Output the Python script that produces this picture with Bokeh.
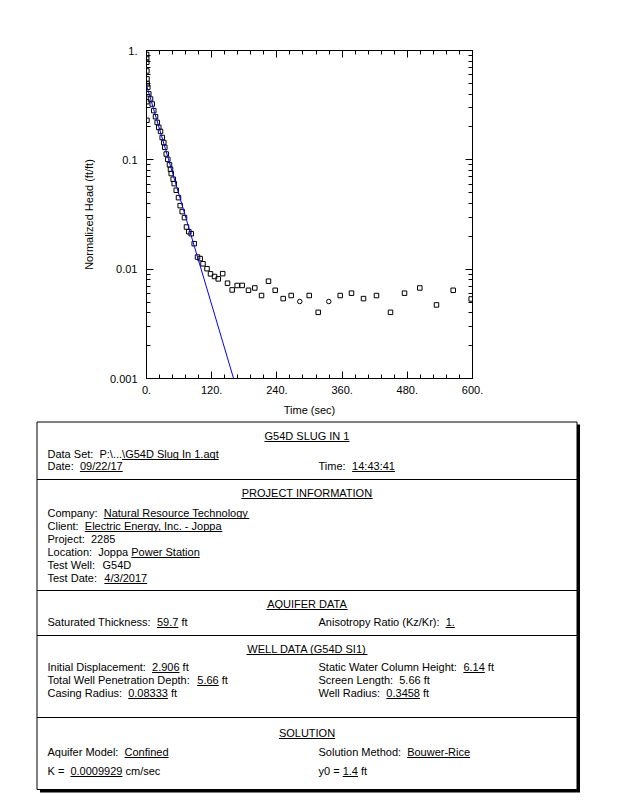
from bokeh.plotting import figure
from bokeh.models import Range1d, LinearAxis, LogAxis, FixedTicker, CustomJSTickFormatter
from bokeh.core.properties import value
from bokeh.embed import file_html
from bokeh.resources import INLINE

# ---------------- data ----------------
t_obs = [0.2, 0.4, 0.5, 0.7, 0.9, 0.6, 0.8,
         1.3, 2.4, 4.2, 7.4, 10.5, 13.4, 16.6, 19.7, 22.6, 25.8, 28.9, 31.8, 33.7, 36.3,
         39.2, 42.3, 44.2, 45.5, 49.1, 51.0, 54.7, 58.9, 62.0, 65.7, 69.9, 73.6, 77.9,
         82.3, 87.8, 93.9, 98.8, 104.0, 111.4, 117.8, 125.2, 132.0, 140.2, 149.1, 157.7,
         166.9, 176.1, 187.7, 199.3, 211.7, 224.5, 236.9, 251.6, 266.3, 299.5, 316.0,
         356.5, 377.3, 399.4, 423.3, 449.1, 474.9, 503.0, 533.7, 564.5, 597.6]
h_obs = [0.92, 0.86, 0.78, 0.65, 0.55, 0.34, 0.23,
         0.495, 0.461, 0.401, 0.360, 0.324, 0.282, 0.248, 0.220, 0.198, 0.182, 0.160, 0.144, 0.130, 0.113,
         0.101, 0.090, 0.082, 0.0749, 0.0665, 0.0606, 0.0527, 0.0451, 0.0381, 0.0336, 0.0296, 0.0243, 0.0220,
         0.0211, 0.0171, 0.0129, 0.0125, 0.0112, 0.0101, 0.00906, 0.00857, 0.00815, 0.00910, 0.00744, 0.00646,
         0.00709, 0.00710, 0.00641, 0.00673, 0.00574, 0.00776, 0.00641, 0.00538, 0.00574, 0.00574, 0.00403,
         0.00574, 0.00603, 0.00538, 0.00574, 0.00403, 0.00603, 0.00673, 0.00471, 0.00641, 0.00534]
t_obs_circ = [282.1, 335.5]
h_obs_circ = [0.00506, 0.00506]

fit_t = [0.0, 160.3]
fit_h = [0.4818, 0.001]

x_ticks = [0, 120, 240, 360, 480, 600]
x_minor = [0, 24, 48, 72, 96, 120, 144, 168, 192, 216, 240, 264, 288, 312, 336, 360,
           384, 408, 432, 456, 480, 504, 528, 552, 576, 600]
y_ticks = [0.001, 0.01, 0.1, 1.0]
y_minor = [0.002, 0.003, 0.004, 0.005, 0.006, 0.007, 0.008, 0.009,
           0.02, 0.03, 0.04, 0.05, 0.06, 0.07, 0.08, 0.09,
           0.2, 0.3, 0.4, 0.5, 0.6, 0.7, 0.8, 0.9]

x_label = "Time (sec)"
y_label = "Normalized Head (ft/ft)"

headers = ["G54D SLUG IN 1", "PROJECT INFORMATION", "AQUIFER DATA", "WELL DATA (G54D SI1)", "SOLUTION"]
fields = [
    ("Data Set:", "P:\\...\\G54D Slug In 1.aqt", "", "P:\\..."),
    ("Date:", "09/22/17", "", ""),
    ("Time:", "14:43:41", "", ""),
    ("Company:", "Natural Resource Technology", "", ""),
    ("Client:", "Electric Energy, Inc. - Joppa", "", ""),
    ("Project:", "2285", "", None),
    ("Location:", "Joppa Power Station", "", "Joppa "),
    ("Test Well:", "G54D", "", None),
    ("Test Date:", "4/3/2017", "", ""),
    ("Saturated Thickness:", "59.7", " ft", ""),
    ("Anisotropy Ratio (Kz/Kr):", "1.", "", ""),
    ("Initial Displacement:", "2.906", " ft", ""),
    ("Static Water Column Height:", "6.14", " ft", ""),
    ("Total Well Penetration Depth:", "5.66", " ft", ""),
    ("Screen Length:", "5.66", " ft", None),
    ("Casing Radius:", "0.08333", " ft", ""),
    ("Well Radius:", "0.3458", " ft", ""),
    ("Aquifer Model:", "Confined", "", ""),
    ("Solution Method:", "Bouwer-Rice", "", ""),
    ("K  =", "0.0009929", " cm/sec", ""),
    ("y0 =", "1.4", " ft", ""),
]

# ---------------- layout (page coordinates) ----------------
header_pos = [435, 492, 603, 648, 732]
field_pos = [(47, 453), (47, 465), (318, 465), (47, 512), (47, 525), (47, 538), (47, 551),
             (47, 564), (47, 577), (47, 621), (318, 621), (47, 666), (318, 666), (47, 679),
             (318, 679), (47, 692), (318, 692), (47, 751), (318, 751), (47, 770), (318, 770)]
gaps = ["  "] * 19 + [" ", " "]
dividers = [479, 590, 635, 717]

FONT = "Liberation Sans"
FS = 11

AW = {' ': 278, 'a': 556, 'b': 556, 'c': 500, 'd': 556, 'e': 556, 'f': 278, 'g': 556, 'h': 556,
      'i': 222, 'j': 222, 'k': 500, 'l': 222, 'm': 833, 'n': 556, 'o': 556, 'p': 556, 'q': 556,
      'r': 333, 's': 500, 't': 278, 'u': 556, 'v': 500, 'w': 722, 'x': 500, 'y': 500, 'z': 500,
      '.': 278, ':': 278, '/': 278, '\\': 278, '-': 333, '(': 333, ')': 333, ',': 278, '=': 584,
      'A': 667, 'B': 667, 'C': 722, 'D': 722, 'E': 667, 'F': 611, 'G': 778, 'H': 722, 'I': 278,
      'J': 500, 'K': 667, 'L': 556, 'M': 833, 'N': 722, 'O': 778, 'P': 667, 'Q': 778, 'R': 722,
      'S': 667, 'T': 611, 'U': 722, 'V': 667, 'W': 944, 'X': 667, 'Y': 667, 'Z': 611}


def tw(s):
    return sum(AW.get(c, 556) for c in s) * FS / 1000.0


# ---------------- chart ----------------
p = figure(width=618, height=420, x_range=Range1d(0, 600), y_range=Range1d(0.001, 1.0),
           y_axis_type="log", toolbar_location=None, output_backend="svg",
           min_border_left=146, min_border_right=146, min_border_top=50, min_border_bottom=42)
p.grid.visible = False
p.outline_line_color = "black"
p.background_fill_color = "white"
p.border_fill_color = "white"

xt = FixedTicker(ticks=x_ticks, minor_ticks=x_minor)
yt = FixedTicker(ticks=y_ticks, minor_ticks=y_minor)

xb = p.below[0]
yl = p.left[0]
xb.ticker = xt
xb.formatter = CustomJSTickFormatter(code="return tick.toFixed(0) + '.';")
xb.axis_label = x_label
yl.ticker = yt
yl.formatter = CustomJSTickFormatter(code="if (tick >= 1) { return '1.'; } return tick.toString();")
yl.axis_label = y_label

top = LinearAxis(ticker=xt, formatter=CustomJSTickFormatter(code="return '';"))
right = LogAxis(ticker=yt, formatter=CustomJSTickFormatter(code="return '';"))
p.add_layout(top, "above")
p.add_layout(right, "right")

for ax in [xb, yl, top, right]:
    ax.axis_line_color = "black"
    ax.major_tick_line_color = "black"
    ax.minor_tick_line_color = "black"
    ax.major_tick_in = 7
    ax.major_tick_out = 0
    ax.minor_tick_in = 4
    ax.minor_tick_out = 0
    ax.major_label_text_font = FONT
    ax.major_label_text_font_size = "11px"
    ax.major_label_text_color = "black"
    ax.axis_label_text_font = FONT
    ax.axis_label_text_font_size = "11px"
    ax.axis_label_text_font_style = "normal"
    ax.axis_label_text_color = "black"

xb.major_label_standoff = 7
xb.axis_label_standoff = 7
yl.major_label_standoff = 9
yl.axis_label_standoff = 12
top.major_label_standoff = 0
right.major_label_standoff = 0

p.scatter(t_obs, h_obs, marker="square", size=4.5, fill_color=None, line_color="black", line_width=1)
p.scatter(t_obs_circ, h_obs_circ, marker="circle", size=4.5, fill_color=None, line_color="black", line_width=1)
p.line(fit_t, fit_h, line_color="#0000ff", line_width=1)

# ---------------- info table ----------------
q = figure(width=618, height=380, x_range=Range1d(0, 618), y_range=Range1d(800, 420),
           toolbar_location=None, output_backend="svg",
           min_border_left=0, min_border_right=0, min_border_top=0, min_border_bottom=0)
q.axis.visible = False
q.grid.visible = False
q.outline_line_color = None
q.background_fill_color = "white"
q.border_fill_color = "white"

# shadow and box
q.quad(left=[39.5], right=[579.5], top=[424], bottom=[792], fill_color="black", line_color=None)
q.quad(left=[36.5], right=[576.5], top=[421.5], bottom=[789], fill_color="white", line_color="black", line_width=1)
q.segment(x0=[36.5] * len(dividers), x1=[576.5] * len(dividers), y0=dividers, y1=dividers,
          line_color="black", line_width=1)

cx = (36.5 + 576.5) / 2
tx, ty, tt, ta = [], [], [], []
ux0, ux1, uy = [], [], []
for h, yc in zip(headers, header_pos):
    tx.append(cx); ty.append(yc); tt.append(h); ta.append("center")
    w = tw(h)
    ux0.append(cx - w / 2); ux1.append(cx + w / 2); uy.append(yc + 6)

for (lab, val, unit, skip), (x, yc), gap in zip(fields, field_pos, gaps):
    tx.append(x); ty.append(yc); tt.append(lab); ta.append("left")
    vx = x + tw(lab + gap)
    tx.append(vx); ty.append(yc); tt.append(val); ta.append("left")
    if unit:
        tx.append(vx + tw(val + " ")); ty.append(yc); tt.append(unit.strip()); ta.append("left")
    if skip is not None:
        ux0.append(vx + tw(skip)); ux1.append(vx + tw(val)); uy.append(yc + 6)

q.text(x=tx, y=ty, text=tt, text_align=ta, text_baseline="middle",
       text_font=value(FONT), text_font_size="11px", text_color="black")
q.segment(x0=ux0, x1=ux1, y0=uy, y1=uy, line_color="black", line_width=1)

open("out.html", "w").write(file_html([p, q], INLINE))
